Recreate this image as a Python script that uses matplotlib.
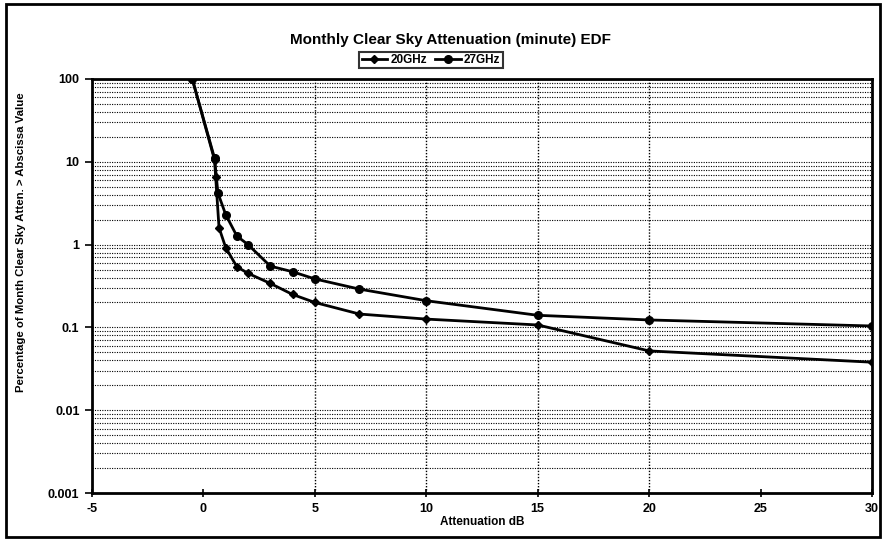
import numpy as np
import matplotlib
matplotlib.use("Agg")
import matplotlib.pyplot as plt
from matplotlib.ticker import LogLocator, FixedLocator, NullFormatter
from matplotlib.patches import Rectangle

plt.rcParams['font.family'] = ['Liberation Sans', 'DejaVu Sans']

# attenuation (dB) and percentage of month exceeded
att_20 = [-0.5, 0.5, 0.55, 0.7, 1.0, 1.5, 2, 3, 4, 5, 7, 10, 15, 20, 30]
pct_20 = [100, 10.5, 6.5, 1.6, 0.92, 0.54, 0.45, 0.34, 0.25, 0.2, 0.145, 0.126, 0.107, 0.052, 0.038]

att_27 = [-0.5, 0.5, 0.65, 1.0, 1.5, 2, 3, 4, 5, 7, 10, 15, 20, 30]
pct_27 = [100, 11, 4.2, 2.3, 1.27, 1.0, 0.55, 0.47, 0.385, 0.29, 0.21, 0.14, 0.123, 0.104]

x_ticks = [-5, 0, 5, 10, 15, 20, 25, 30]
x_grid = [5, 10, 15, 20]
y_ticks = [0.001, 0.01, 0.1, 1, 10, 100]
y_labels = ['0.001', '0.01', '0.1', '1', '10', '100']

W, H = 884, 541
fig = plt.figure(figsize=(W / 100, H / 100), dpi=100)
ax = fig.add_axes([92 / W, 1 - 493 / H, (872 - 92) / W, (493 - 79) / H])

# outer border of the whole chart
fig.patches.append(Rectangle((6 / W, 4 / H), 874 / W, 533 / H, transform=fig.transFigure,
                             fill=False, edgecolor='black', linewidth=2))

ax.set_yscale('log')
ax.set_xlim(-5, 30)
ax.set_ylim(0.001, 100)

# dotted grid
dots = (0, (1, 1.2))
ax.yaxis.set_minor_locator(LogLocator(base=10, subs=np.arange(2, 10)))
ax.yaxis.set_minor_formatter(NullFormatter())
ax.grid(True, which='both', axis='y', color='black', linestyle=dots, linewidth=0.8)
for xv in x_grid:
    ax.axvline(xv, color='black', linestyle=dots, linewidth=1.0)

ax.plot(att_20, pct_20, color='black', linewidth=2, marker='D', markersize=4.5, label='20GHz', zorder=3)
ax.plot(att_27, pct_27, color='black', linewidth=2, marker='o', markersize=5.5, label='27GHz', zorder=3)

ax.set_xticks(x_ticks)
ax.set_xticklabels([str(v) for v in x_ticks])
ax.yaxis.set_major_locator(FixedLocator(y_ticks))
ax.set_yticklabels(y_labels)
ax.tick_params(axis='y', which='major', length=5, width=1.2, direction='out', labelsize=9, pad=4)
ax.tick_params(axis='y', which='minor', length=0)
ax.tick_params(axis='x', length=6, width=1.2, direction='inout', labelsize=9, pad=4)
for lab in ax.get_xticklabels() + ax.get_yticklabels():
    lab.set_fontweight('bold')

for s in ax.spines.values():
    s.set_linewidth(2)

fig.text(450 / W, 1 - 40 / H, 'Monthly Clear Sky Attenuation (minute) EDF', ha='center', va='center',
         fontsize=11, fontweight='bold')
fig.text(482 / W, 1 - 522 / H, 'Attenuation dB', ha='center', va='center', fontsize=8.5, fontweight='bold')
fig.text(21 / W, 1 - 242 / H, 'Percentage of Month Clear Sky Atten. > Abscissa Value', rotation=90,
         ha='center', va='center', fontsize=8.2, fontweight='bold')

leg = fig.legend(loc='center', bbox_to_anchor=(431 / W, 1 - 60 / H), ncol=2, frameon=True,
                 fancybox=False, edgecolor='black', handlelength=2.2, columnspacing=0.6,
                 handletextpad=0.3, borderpad=0.2, prop={'weight': 'bold', 'size': 8.5})
leg.get_frame().set_linewidth(1.5)

fig.savefig('out.png', dpi=100)
